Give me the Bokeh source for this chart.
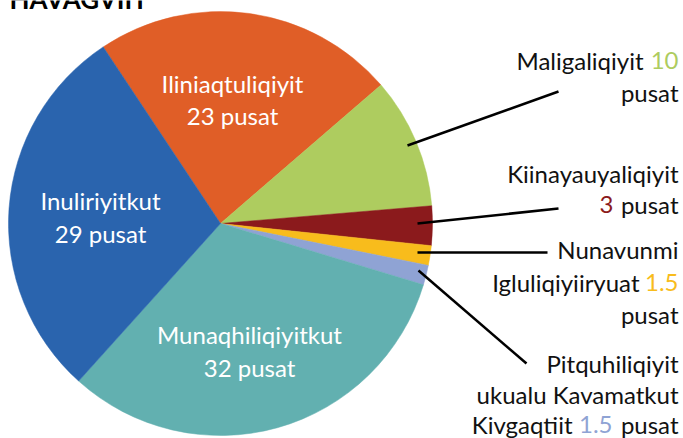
from bokeh.plotting import figure
from bokeh.models import Range1d, ColumnDataSource
from bokeh.embed import file_html
from bokeh.resources import INLINE
from bokeh.core.properties import value
import math

# ---- data ----
chart_title = "HAVAGVIIT"
departments = ["Iliniaqtuliqiyit", "Maligaliqiyit", "Kiinayauyaliqiyit",
               "Nunavunmi Igluliqiyiiryuat",
               "Pitquhiliqiyit ukualu Kavamatkut Kivgaqtiit",
               "Munaqhiliqiyitkut", "Inuliriyitkut"]
percent = [23, 10, 3, 1.5, 1.5, 32, 29]
colors = ["#E05E27", "#AECC5F", "#8B1A1C", "#F8BC1C", "#8FA3D4", "#62B0B0", "#2A64AE"]
unit = "pusat"

# ---- layout helpers (picture pixel coords -> data coords) ----
W, H = 683, 438


def X(rx):
    return rx


def Y(ry):
    return H - ry


def TY(baseline):
    # text drawn with baseline "middle": anchor at cap centre
    return Y(baseline - 9)


FONT = value("Lato")
FS = "24px"

p = figure(width=W, height=H, x_range=Range1d(0, W), y_range=Range1d(0, H),
           output_backend="svg", toolbar_location=None, min_border=0,
           x_axis_type=None, y_axis_type=None)
p.grid.visible = False
p.outline_line_color = None
p.background_fill_color = "white"
p.border_fill_color = "white"

# ---- pie ----
cx, cy, r = X(220), Y(223), 212
theta0 = math.radians(123.6)
total = sum(percent)
starts, ends = [], []
acc = 0.0
for v in percent:
    a1 = theta0 - 2 * math.pi * acc / total
    acc += v
    a2 = theta0 - 2 * math.pi * acc / total
    starts.append(a2)
    ends.append(a1)
src = ColumnDataSource(dict(start=starts, end=ends, color=colors, name=departments, pct=percent))
p.wedge(x=cx, y=cy, radius=r, start_angle="start", end_angle="end", direction="anticlock",
        fill_color="color", line_color="color", line_width=0.5, source=src)


def fmt(v):
    return "%g" % v


# ---- inside labels (white) ----
inside = [
    (0, 232, 92, 124),
    (6, 100, 209, 242),
    (5, 249, 343, 376),
]
for idx, x, b1, b2 in inside:
    p.text(x=[X(x), X(x)], y=[TY(b1), TY(b2)],
           text=[departments[idx], "%s %s" % (fmt(percent[idx]), unit)],
           text_align="center", text_baseline="middle",
           text_font=FONT, text_font_size=FS, text_color="white")


# ---- outside labels ----
def lab(x, b, t, c="#111111"):
    p.text(x=[X(x)], y=[TY(b)], text=[t], text_align="right", text_baseline="middle",
           text_font=FONT, text_font_size=FS, text_color=c)


RX = 678
# Maligaliqiyit 10 pusat
lab(643, 69, departments[1])
lab(RX, 69, fmt(percent[1]), colors[1])
lab(RX, 101, unit)
# Kiinayauyaliqiyit 3 pusat
lab(RX, 182, departments[2])
lab(613, 213, fmt(percent[2]), colors[2])
lab(RX, 213, unit)
# Nunavunmi Igluliqiyiiryuat 1.5 pusat
n1, n2 = departments[3].split(" ")
lab(RX, 258, n1)
lab(639, 291, n2)
lab(RX, 291, fmt(percent[3]), colors[3])
lab(RX, 323, unit)
# Pitquhiliqiyit ukualu Kavamatkut Kivgaqtiit 1.5 pusat
w = departments[4].split(" ")
lab(RX, 372, w[0])
lab(RX, 403, " ".join(w[1:3]))
lab(572, 433, w[3])
lab(612, 433, fmt(percent[4]), colors[4])
lab(RX, 433, unit)

# ---- leader lines ----
leaders = [((407, 145), (558, 91)),
           ((417, 223), (558, 208)),
           ((417, 252), (547, 252)),
           ((418, 270), (526, 363))]
p.segment(x0=[X(a[0]) for a, b in leaders], y0=[Y(a[1]) for a, b in leaders],
          x1=[X(b[0]) for a, b in leaders], y1=[Y(b[1]) for a, b in leaders],
          line_color="black", line_width=2.5)

# ---- title (cut off at the top, as in the reference) ----
p.text(x=[X(9)], y=[Y(-2)], text=[chart_title], text_align="left", text_baseline="middle",
       text_font=FONT, text_font_size="26px", text_font_style="bold", text_color="black")

open("out.html", "w").write(file_html(p, INLINE))
